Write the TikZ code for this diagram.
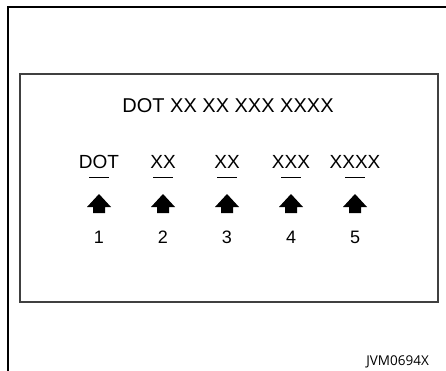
\documentclass[tikz,border=0pt]{standalone}
\usepackage{fontspec}
\setmainfont{Liberation Sans}
\newfontfamily\codefont{Open Sans}
\usepackage{tikz}
\usetikzlibrary{calc}

\begin{document}
\begin{tikzpicture}[x=1pt,y=-1pt,
  txt/.style={font=\fontsize{19}{22}\selectfont, inner sep=0pt, anchor=base},
  uparrow/.style={fill=black}]
  \useasboundingbox (0,0) rectangle (446,371);
  \draw[line width=1.4pt] (8,371) -- (8,7) -- (446,7);
  \draw[line width=1.4pt, black!75] (20,74) rectangle (438,302);
  \node[txt, font=\fontsize{20}{24}\selectfont] (title) at (228,113) {DOT XX XX XXX XXXX};
  \foreach \i/\w in {1/DOT,2/XX,3/XX,4/XXX,5/XXXX} {
    \node[txt] (w\i) at ({99+64*(\i-1)},169) {\w};
    \draw[line width=1pt] ($(w\i.base)+(-10,9)$) -- ++(20,0);
    \coordinate (a\i) at ({99+64*(\i-1)},203.5);
    \fill[uparrow] (a\i) ++(0,-9.5) -- ++(12,13) -- ++(-6,0) -- ++(0,6)
      -- ++(-12,0) -- ++(0,-6) -- ++(-6,0) -- cycle;
    \node[txt, font=\fontsize{18}{22}\selectfont] (n\i) at ({99+64*(\i-1)},243) {\i};
  }
  \node[font=\codefont\fontsize{13.5}{16}\selectfont, anchor=base east, inner sep=0pt] (code) at (429,365) {JVM0694X};
\end{tikzpicture}
\end{document}
